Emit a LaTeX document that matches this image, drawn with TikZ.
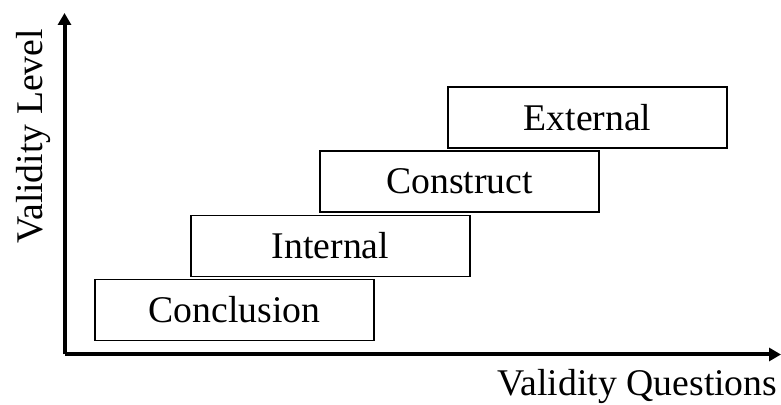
\documentclass[tikz,border=0pt]{standalone}
\usepackage{fontspec}
\setmainfont{Liberation Serif}
\usepackage{tikz}
\usetikzlibrary{arrows.meta}

\begin{document}
\begin{tikzpicture}[x=0.5pt, y=0.5pt,
    level/.style={draw, line width=0.75pt, minimum width=139.5pt,
        minimum height=30.5pt, inner sep=0pt},
    every node/.style={font=\fontsize{18.85}{22}\selectfont}]
    \useasboundingbox (0,0) rectangle (781,405);

    \coordinate (O) at (64.5,50.5);
    \coordinate (Y) at (64.5,392);
    \coordinate (X) at (781,50.5);
    \draw[-{Triangle[length=6pt, width=6.5pt]}, line width=2pt] (O) -- (Y);
    \draw[-{Triangle[length=6pt, width=6.5pt]}, line width=2pt] (O) -- (X);

    \node[rotate=90, anchor=base](L) at (43,268.5){Validity Level};
    \node[anchor=base](Q) at (637.5,9){Validity Questions};

    \node[level](Conc) at (234.5,95){Conclusion};
    \node[level](Int) at (330.5,159){Internal};
    \node[level](Cons) at (459.5,223.5){Construct};
    \node[level](Ext) at (587.5,287.5){External};
\end{tikzpicture}
\end{document}
